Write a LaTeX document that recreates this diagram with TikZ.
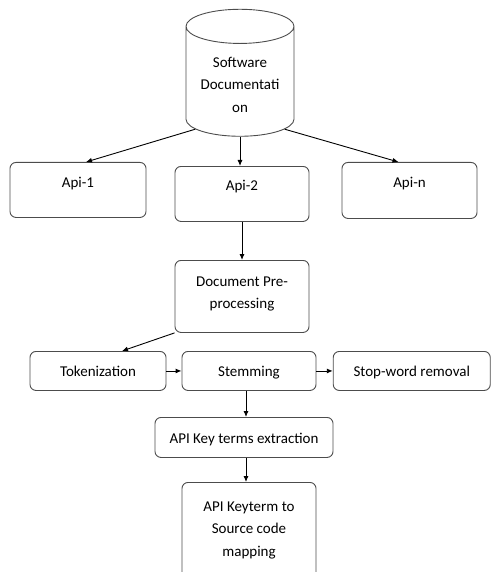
\documentclass[tikz,border=0pt]{standalone}
\usepackage{fontspec}
\setmainfont{Carlito}
\usetikzlibrary{shapes.geometric,calc,arrows.meta}

\tikzset{
  box/.style={draw=black!70, line width=0.9pt, rounded corners=6pt, align=center,
    inner xsep=2pt, inner ysep=0pt, anchor=north},
  link/.style={-{Latex[length=6pt,width=5pt]}, line width=0.9pt},
}

\begin{document}
\begin{tikzpicture}[x=1pt,y=-1pt,font=\fontsize{15}{22.5}\selectfont]
  \useasboundingbox (0,0) rectangle (491,572);

  % documentation store
  \node [draw=black!70, line width=0.9pt, cylinder, shape border rotate=90, aspect=0.4,
    minimum width=108pt, minimum height=127pt, align=center] (docs) at (240,84.5)
    {Software\\Documentati\\on};

  % apis
  \node [box, minimum width=136pt, text height=25pt, text depth=30pt] (api1) at (78,162) {Api-1};
  \node [box, minimum width=134pt, text height=24pt, text depth=31pt] (api2) at (242,166) {Api-2};
  \node [box, minimum width=135pt, text height=25pt, text depth=31pt] (apin) at (409.5,162) {Api-n};

  % pre-processing
  \node [box, minimum width=134pt, text height=48.5pt, text depth=23.5pt] (prep) at (242,260) {Document Pre-\\processing};
  \node [box, minimum width=136pt, text height=25pt, text depth=14pt] (tok) at (98,351) {Tokenization};
  \node [box, minimum width=134pt, text height=25pt, text depth=14pt] (stem) at (249,351) {Stemming};
  \node [box, minimum width=157pt, text height=25pt, text depth=14pt] (stop) at (411.75,351) {Stop-word removal};

  % key terms
  \node [box, minimum width=178pt, text height=26pt, text depth=14pt] (keys) at (244,417) {API Key terms extraction};
  \node [box, minimum width=134pt, text height=74pt, text depth=26pt] (map) at (249,482) {API Keyterm to\\Source code\\mapping};

  \draw [link] (docs.south west) -- ($(api1.north)+(8,0)$);
  \draw [link] (docs.south) -- (docs.south |- api2.north);
  \draw [link] (docs.south east) -- ($(apin.north)+(-11,0)$);
  \draw [link] (api2.south) -- (prep.north);
  \draw [link] (prep.south west) -- ($(tok.north)+(24,0)$);
  \draw [link] (tok) -- (stem);
  \draw [link] (stem) -- (stop);
  \draw [link] ($(stem.south)+(-3,0)$) -- ($(stem.south |- keys.north)+(-3,0)$);
  \draw [link] ($(keys.south)+(2,0)$) -- ($(map.north)+(-3,0)$);

\end{tikzpicture}
\end{document}
